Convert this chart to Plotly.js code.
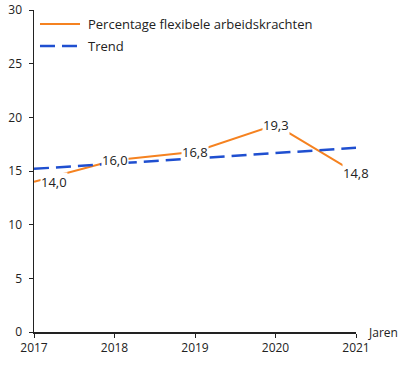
<!DOCTYPE html>
<html><head><meta charset="utf-8">
<script src="https://cdn.plot.ly/plotly-3.0.1.min.js"></script>
<style>html,body{margin:0;padding:0;background:#fff}#c{width:413px;height:371px}</style>
</head><body><div id="c"></div>
<script>
const years = [2017, 2018, 2019, 2020, 2021];
const flex = [14.0, 16.0, 16.8, 19.3, 14.8];
const trend = [15.2, 15.69, 16.18, 16.67, 17.16];
const labels = ['14,0', '16,0', '16,8', '19,3', '14,8'];
const labelShift = [20, 0, 0, 0, 0];
const seriesNames = ['Percentage flexibele arbeidskrachten', 'Trend'];

const font = "'Open Sans', 'DejaVu Sans', sans-serif";
const colors = ['#F58220', '#1F4FD0'];
const dashes = ['solid', '15px,7px'];
const traces = [
  {x: years, y: flex, mode: 'lines', name: seriesNames[0], showlegend: false,
   line: {color: colors[0], width: 2}},
  {x: years, y: trend, mode: 'lines', name: seriesNames[1], showlegend: false,
   line: {color: colors[1], width: 2.5, dash: dashes[1]}}
];
const ann = years.map((yr, i) => ({
  x: yr, y: flex[i], text: labels[i], showarrow: false, xshift: labelShift[i], yshift: 0,
  bgcolor: '#fff', borderpad: 0, font: {size: 13, color: '#222', family: font}
}));
ann.push({xref: 'paper', yref: 'y', x: 1, y: 0, xanchor: 'left', yanchor: 'middle', xshift: 10,
  text: 'Jaren', showarrow: false, font: {size: 12, color: '#222', family: font}});
// manual legend (plot area 322x322 px starting at 34,10)
const legY = [0.9565, 0.8882];
const shapes = [];
seriesNames.forEach((n, i) => {
  shapes.push({type: 'line', xref: 'paper', yref: 'paper', x0: 0.0186, x1: 0.1429, y0: legY[i], y1: legY[i],
    line: {color: colors[i], width: i ? 2.5 : 2, dash: dashes[i]}});
  ann.push({xref: 'paper', yref: 'paper', x: 0.1615, y: legY[i], xanchor: 'left', yanchor: 'middle',
    text: n, showarrow: false, font: {size: 13, color: '#222', family: font}});
});
const layout = {
  width: 413, height: 371,
  margin: {l: 34, r: 57, t: 10, b: 39},
  paper_bgcolor: '#fff', plot_bgcolor: '#fff',
  font: {family: font, size: 12, color: '#222'},
  showlegend: false,
  xaxis: {range: [2017, 2021], tickvals: years, ticktext: years.map(String), showgrid: false, zeroline: false,
    showline: true, linecolor: '#222', linewidth: 1.5, ticks: 'outside', ticklen: 4, tickcolor: '#222'},
  yaxis: {range: [0, 30], dtick: 5, showgrid: false, zeroline: false, showline: true,
    linecolor: '#222', linewidth: 1.5, ticks: 'outside', ticklen: 4, tickcolor: '#222', ticklabelstandoff: 4},
  shapes: shapes,
  annotations: ann
};
Plotly.newPlot('c', traces, layout, {displayModeBar: false, staticPlot: true});
</script></body></html>
